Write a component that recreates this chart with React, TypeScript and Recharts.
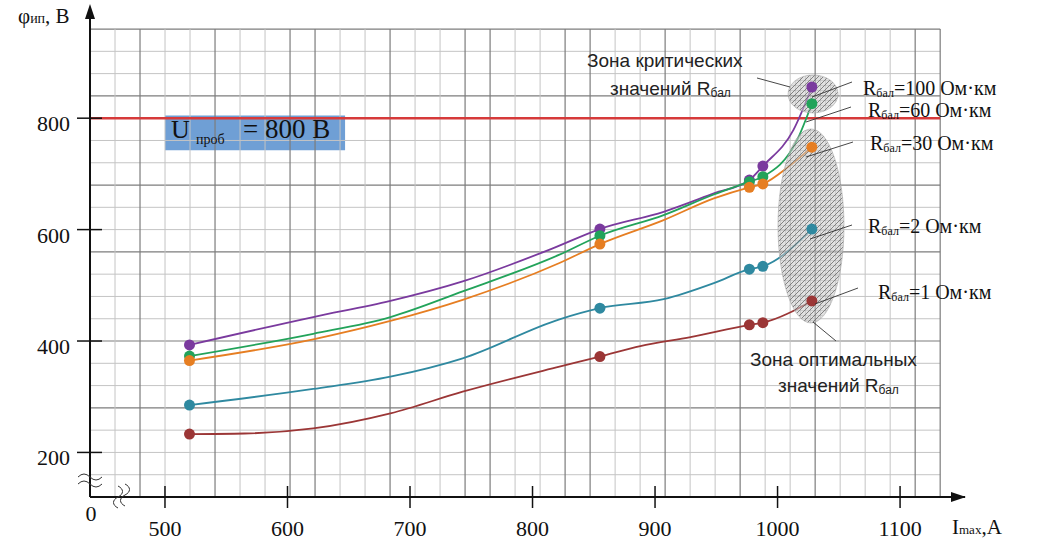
import { ComposedChart, Line, XAxis, YAxis, ReferenceLine, ReferenceArea, ReferenceDot } from "recharts";

// axis ticks
const X_TICKS = [500, 600, 700, 800, 900, 1000, 1100];
const Y_TICKS = [200, 400, 600, 800];
const U_BREAKDOWN = 800;

// measured points (I_max, A ; φ, V)
const R100_POINTS = [
  { x: 520, y: 393 }, { x: 855, y: 601 }, { x: 977, y: 689 }, { x: 988, y: 714 }, { x: 1028, y: 856 },
];
const R60_POINTS = [
  { x: 520, y: 373 }, { x: 855, y: 589 }, { x: 977, y: 686 }, { x: 988, y: 695 }, { x: 1028, y: 826 },
];
const R30_POINTS = [
  { x: 520, y: 365 }, { x: 855, y: 574 }, { x: 977, y: 676 }, { x: 988, y: 682 }, { x: 1028, y: 748 },
];
const R2_POINTS = [
  { x: 520, y: 285 }, { x: 855, y: 459 }, { x: 977, y: 529 }, { x: 988, y: 534 }, { x: 1028, y: 601 },
];
const R1_POINTS = [
  { x: 520, y: 233 }, { x: 855, y: 372 }, { x: 977, y: 429 }, { x: 988, y: 433 }, { x: 1028, y: 472 },
];

// smooth curves
const R100_CURVE = [
  { x: 520, y: 393 }, { x: 621, y: 443 }, { x: 684, y: 472 }, { x: 743, y: 507 }, { x: 815, y: 565 },
  { x: 855, y: 601 }, { x: 907, y: 632 }, { x: 948, y: 665 }, { x: 977, y: 689 }, { x: 988, y: 714 },
  { x: 1013, y: 779 }, { x: 1028, y: 856 },
];
const R60_CURVE = [
  { x: 520, y: 373 }, { x: 621, y: 413 }, { x: 684, y: 443 }, { x: 743, y: 489 }, { x: 822, y: 555 },
  { x: 855, y: 589 }, { x: 907, y: 626 }, { x: 948, y: 663 }, { x: 977, y: 686 }, { x: 988, y: 695 },
  { x: 1016, y: 761 }, { x: 1028, y: 826 },
];
const R30_CURVE = [
  { x: 520, y: 365 }, { x: 621, y: 403 }, { x: 684, y: 436 }, { x: 743, y: 474 }, { x: 822, y: 540 },
  { x: 855, y: 574 }, { x: 907, y: 617 }, { x: 948, y: 656 }, { x: 977, y: 676 }, { x: 988, y: 682 },
  { x: 1009, y: 713 }, { x: 1028, y: 748 },
];
const R2_CURVE = [
  { x: 520, y: 285 }, { x: 621, y: 314 }, { x: 684, y: 336 }, { x: 743, y: 369 }, { x: 822, y: 439 },
  { x: 855, y: 459 }, { x: 907, y: 475 }, { x: 948, y: 504 }, { x: 977, y: 529 }, { x: 988, y: 534 },
  { x: 1028, y: 601 },
];
const R1_CURVE = [
  { x: 520, y: 233 }, { x: 565, y: 234 }, { x: 621, y: 243 }, { x: 684, y: 270 }, { x: 743, y: 309 },
  { x: 822, y: 354 }, { x: 855, y: 372 }, { x: 888, y: 391 }, { x: 929, y: 407 }, { x: 977, y: 429 },
  { x: 988, y: 433 }, { x: 1028, y: 472 },
];

const SERIES = [
  { name: "100", color: "#7a3a9e", curve: R100_CURVE, points: R100_POINTS },
  { name: "60", color: "#22a35a", curve: R60_CURVE, points: R60_POINTS },
  { name: "30", color: "#e67e22", curve: R30_CURVE, points: R30_POINTS },
  { name: "2", color: "#2f89a0", curve: R2_CURVE, points: R2_POINTS },
  { name: "1", color: "#9b3636", curve: R1_CURVE, points: R1_POINTS },
];

// graph-paper background (in axis units)
const X_MIN = 438.8;
const X_MAX = 1153;
const Y_MIN = 120;
const Y_MAX = 996;
const GRID_X_STEP = 20.41;
const GRID_X_COUNT = 34;
const GRID_X_MAJOR = [2, 5, 8, 9, 12, 15, 16, 19, 20, 23, 26, 29, 33, 34];
const GRID_Y_VALUES = [160, 200, 240, 280, 320, 360, 400, 440, 480, 520, 560, 600, 640, 680, 720, 760, 840, 880, 920, 960];
const GRID_Y_MAJOR = [280, 400, 560, 680, 840, 960];

const gridX: { v: number; major: boolean }[] = [];
for (let k = 1; k <= GRID_X_COUNT; k++) {
  gridX.push({ v: X_MIN + k * GRID_X_STEP, major: GRID_X_MAJOR.includes(k) });
}
const GRID_RIGHT = X_MIN + GRID_X_COUNT * GRID_X_STEP;

const SERIF = "'Liberation Serif', 'DejaVu Serif', serif";
const SANS = "'Liberation Sans', Arial, sans-serif";

const YTick = (props: any) => {
  const { x, y, payload } = props;
  return (
    <g>
      <line x1={x - 13} x2={x + 12} y1={y} y2={y} stroke="#111" strokeWidth={1.5} />
      <text x={x - 20} y={y + 13} textAnchor="end" fontFamily={SERIF} fontSize={22} fill="#111">
        {payload.value}
      </text>
    </g>
  );
};

const XTick = (props: any) => {
  const { x, y, payload } = props;
  return (
    <g>
      <line x1={x} x2={x} y1={y - 11} y2={y + 11} stroke="#111" strokeWidth={1.5} />
      <text x={x} y={y + 39} textAnchor="middle" fontFamily={SERIF} fontSize={22} fill="#111">
        {payload.value}
      </text>
    </g>
  );
};

function RLabel({ x, y, value }: { x: number; y: number; value: string }) {
  return (
    <text x={x} y={y} fontFamily={SERIF} fontSize={20} fill="#111">
      R<tspan fontSize={12} dy={2}>бал</tspan>
      <tspan dy={-2}>={value} Ом·км</tspan>
    </text>
  );
}

const leader = { stroke: "#333", strokeWidth: 0.9 };

export default function App() {
  return (
    <div style={{ position: "absolute", left: 0, top: 0, width: 1039, height: 548, background: "#fff" }}>
      <ComposedChart width={1039} height={548} margin={{ top: 9, right: 74, bottom: 21, left: 30 }}>
        <defs>
          <pattern id="hatch" width="5" height="5" patternUnits="userSpaceOnUse">
            <rect width="5" height="5" fill="#c8c8c8" fillOpacity={0.55} />
            <path d="M0,5 L5,0" stroke="#444" strokeWidth={0.6} />
            <path d="M0,0 H5 M0,0 V5" stroke="#777" strokeWidth={0.4} />
          </pattern>
        </defs>
        <XAxis
          type="number"
          dataKey="x"
          domain={[X_MIN, X_MAX]}
          allowDataOverflow
          ticks={X_TICKS}
          interval={0}
          height={30}
          tickSize={0}
          tickMargin={0}
          tickLine={false}
          axisLine={{ stroke: "#111", strokeWidth: 2 }}
          tick={(p: any) => <XTick {...p} />}
        />
        <YAxis
          type="number"
          dataKey="y"
          domain={[Y_MIN, Y_MAX]}
          allowDataOverflow
          ticks={Y_TICKS}
          interval={0}
          width={60}
          tickSize={0}
          tickMargin={0}
          tickLine={false}
          axisLine={{ stroke: "#111", strokeWidth: 2 }}
          tick={(p: any) => <YTick {...p} />}
        />

        {GRID_Y_VALUES.map((v) => (
          <ReferenceLine
            key={`gy-${v}`}
            segment={[{ x: X_MIN, y: v }, { x: GRID_RIGHT, y: v }]}
            stroke={GRID_Y_MAJOR.includes(v) ? "#7c7c7c" : "#c4c4c4"}
            strokeWidth={GRID_Y_MAJOR.includes(v) ? 1.2 : 1}
            ifOverflow="visible"
          />
        ))}
        {gridX.map((g) => (
          <ReferenceLine
            key={`gx-${g.v}`}
            segment={[{ x: g.v, y: Y_MIN }, { x: g.v, y: 960 }]}
            stroke={g.major ? "#7c7c7c" : "#c4c4c4"}
            strokeWidth={g.major ? 1.2 : 1}
            ifOverflow="visible"
          />
        ))}

        <ReferenceArea x1={500} x2={647} y1={742.6} y2={805} fill="#6f9fd5" fillOpacity={1} stroke="none" ifOverflow="visible" />
        <ReferenceLine
          segment={[{ x: X_MIN, y: U_BREAKDOWN }, { x: GRID_RIGHT, y: U_BREAKDOWN }]}
          stroke="#d63a3a"
          strokeWidth={2.5}
          ifOverflow="visible"
        />

        <ReferenceDot
          x={1029}
          y={843.5}
          ifOverflow="visible"
          shape={(p: any) => <ellipse cx={p.cx} cy={p.cy} rx={25} ry={19} fill="url(#hatch)" stroke="#aaa" strokeWidth={0.6} />}
        />
        <ReferenceDot
          x={1027.3}
          y={606.5}
          ifOverflow="visible"
          shape={(p: any) => <ellipse cx={p.cx} cy={p.cy} rx={33} ry={97} fill="url(#hatch)" stroke="#aaa" strokeWidth={0.6} />}
        />

        {SERIES.map((s) => (
          <Line
            key={`c-${s.name}`}
            data={s.curve}
            dataKey="y"
            type="monotone"
            stroke={s.color}
            strokeWidth={1.8}
            dot={false}
            activeDot={false}
            isAnimationActive={false}
          />
        ))}
        {SERIES.map((s) => (
          <Line
            key={`p-${s.name}`}
            data={s.points}
            dataKey="y"
            stroke="none"
            dot={{ r: 5.5, fill: s.color, stroke: "none" }}
            activeDot={false}
            isAnimationActive={false}
          />
        ))}
      </ComposedChart>

      {/* annotations drawn on top of the chart */}
      <svg width={1039} height={548} style={{ position: "absolute", left: 0, top: 0, pointerEvents: "none" }}>
        <polygon points="90,4 85,19 95,19" fill="#111" />
        <polygon points="966,497 951,492 951,502" fill="#111" />
        <path d="M78,477 q6,-6 12,0 t12,0 M78,484 q6,-6 12,0 t12,0" stroke="#333" strokeWidth={1} fill="none" />
        <path d="M118,486 c6,3 6,8 0,11 c-6,3 -6,8 0,11 M125,484 c6,3 6,8 0,11 c-6,3 -6,8 0,11" stroke="#333" strokeWidth={1} fill="none" />
        <text x={91} y={521} textAnchor="middle" fontFamily={SERIF} fontSize={22} fill="#111">0</text>

        <text x={18} y={23} fontFamily={SERIF} fontSize={21} fill="#111">
          φ<tspan fontSize={14}>ип</tspan>, В
        </text>
        <text x={952} y={534} fontFamily={SERIF} fontSize={21} fill="#111">
          I<tspan fontSize={13}>max</tspan>,A
        </text>

        <text x={171} y={138} fontFamily={SERIF} fontSize={26} fill="#111">U</text>
        <text x={196} y={144} fontFamily={SERIF} fontSize={14} fill="#111">проб</text>
        <text x={243} y={138} fontFamily={SERIF} fontSize={27} fill="#111">= 800 В</text>

        <text x={587} y={67} fontFamily={SANS} fontSize={19} fill="#222">Зона критических</text>
        <text x={610} y={95} fontFamily={SANS} fontSize={19} fill="#222">
          значений R<tspan fontSize={12} dy={2}>бал</tspan>
        </text>
        <line x1={757} y1={78} x2={790} y2={87} {...leader} />
        <text x={750} y={366} fontFamily={SANS} fontSize={19} fill="#222">Зона оптимальных</text>
        <text x={778} y={392} fontFamily={SANS} fontSize={19} fill="#222">
          значений R<tspan fontSize={12} dy={2}>бал</tspan>
        </text>
        <line x1={813} y1={322} x2={836} y2={341} {...leader} />

        <line x1={852} y1={82} x2={812} y2={97} {...leader} />
        <RLabel x={863} y={95} value="100" />
        <line x1={851} y1={107} x2={806} y2={122} {...leader} />
        <RLabel x={868} y={117} value="60" />
        <line x1={853} y1={142} x2={806} y2={157} {...leader} />
        <RLabel x={870} y={150} value="30" />
        <line x1={852} y1={225} x2={810} y2={239} {...leader} />
        <RLabel x={868} y={233} value="2" />
        <line x1={858} y1={288} x2={815} y2={304} {...leader} />
        <RLabel x={878} y={299} value="1" />
      </svg>
    </div>
  );
}
